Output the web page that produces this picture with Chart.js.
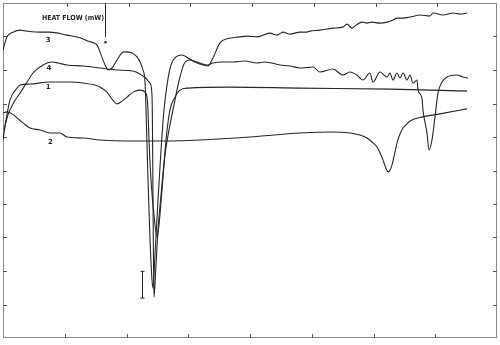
<!DOCTYPE html>
<html><head><meta charset="utf-8">
<script src="https://cdn.jsdelivr.net/npm/chart.js@4/dist/chart.umd.min.js"></script>
<style>html,body{margin:0;padding:0;background:#fff;}canvas{display:block;}</style>
</head><body>
<canvas id="c" width="500" height="345"></canvas>
<script>
// Axis divisions (unlabelled tick marks)
const xTicks = [0,10,20,30,40,50,60,70,80];
const yTicks = [0,10,20,30,40,50,60,70,80,90,100];

// Curve 1
const curve1X = [0,0.49,1.13,2.27,2.75,4.37,7.61,10.85,12.96,14.9,15.71,16.84,17.65,18.46,19.27,20.08,21.05,22.19,23.0,23.32,23.48,23.64,23.97,24.45,24.94,25.26,25.75,26.4,27.04,27.85,28.66,29.96,36.76,48.08,62.67,75.14];
const curve1Y = [59.1,65.1,71.0,74.6,75.5,75.8,76.4,76.4,76.1,75.5,74.9,73.4,71.3,69.9,70.7,71.9,73.4,74.0,73.4,71.9,68.1,59.1,47.2,36.7,30.1,33.7,44.2,59.1,68.1,71.9,74.0,74.6,74.9,74.6,74.3,73.7];

// Curve 2
const curve2X = [0,0.65,1.46,2.27,3.24,4.37,5.99,7.61,9.23,10.36,12.96,15.71,21.05,26.56,31.9,40.0,48.08,53.43,56.19,57.81,58.95,59.76,60.57,61.21,61.54,62.02,62.35,62.67,62.99,63.48,63.8,64.29,64.78,65.42,65.91,68.01,70.77,75.14];
const curve2Y = [67.2,67.5,66.9,65.7,64.2,62.7,62.1,61.2,61.2,60.0,59.7,59.1,58.8,58.8,59.1,60.0,61.2,61.5,61.2,60.6,59.7,58.5,57.0,54.6,53.1,50.7,49.6,50.1,51.6,55.5,58.2,60.9,62.7,63.9,64.8,66.0,66.9,68.4];

// Curve 3
const curve3X = [0,0.65,1.62,2.75,3.89,5.99,7.61,10.36,12.47,14.09,15.22,15.71,16.19,16.68,17.0,17.65,18.46,19.27,19.76,20.89,21.7,22.19,22.67,23.0,23.16,23.48,23.81,24.13,24.29,24.61,25.1,25.59,26.07,26.56,27.2,28.02,28.99,29.96,31.09,32.39,33.2,34.0,35.14,36.27,38.38,39.51,41.13,43.24,44.37,45.34,46.47,48.08,49.22,49.7,51.32,53.43,55.05,55.69,56.5,57.2,58.13,58.95,59.76,61.05,62.19,63.16,63.8,64.78,65.91,67.53,69.15,69.64,71.26,72.88,74.0,75.14];
const curve3Y = [86.0,89.9,91.3,91.9,91.6,91.3,91.3,90.4,89.6,88.4,87.5,85.4,83.0,80.9,80.0,80.6,83.0,85.1,85.4,85.1,83.9,82.4,80.0,76.4,68.1,47.2,29.3,17.3,14.9,24.8,41.2,56.1,68.1,75.5,81.5,83.9,84.5,83.6,82.4,81.5,81.2,83.6,88.1,89.3,89.9,90.1,89.9,91.0,90.4,91.3,90.7,91.3,91.3,91.6,91.9,92.5,92.8,93.7,92.5,93.4,94.3,94.0,94.3,94.0,94.3,94.9,95.5,95.5,95.8,96.4,96.1,97.0,96.4,97.0,96.7,97.0];

// Curve 4
const curve4X = [0.16,0.81,1.78,2.75,3.89,4.86,6.48,7.94,8.91,10.36,12.96,15.71,18.46,21.05,22.67,23.81,24.13,24.21,24.29,24.37,24.45,24.78,25.1,25.59,26.23,27.04,27.85,28.34,28.66,29.31,30.28,31.42,33.04,34.0,35.47,37.25,39.19,41.13,42.43,44.86,46.47,48.08,50.2,51.32,53.43,55.05,56.19,57.32,58.29,59.42,59.92,61.05,62.19,62.67,63.16,63.8,64.29,64.78,65.42,65.91,66.4,67.04,67.21,67.85,68.01,68.66,68.99,69.47,69.96,70.44,71.09,71.9,73.52,74.49,75.3];
const curve4Y = [62.1,66.6,70.4,73.1,76.4,79.1,81.5,82.4,82.1,81.5,81.2,80.6,80.0,79.7,78.2,76.1,72.5,62.1,41.2,23.3,12.2,21.8,32.2,42.7,54.6,63.6,71.0,75.5,77.9,81.8,83.0,82.4,81.5,82.1,82.4,82.4,82.7,82.1,82.4,81.5,81.2,80.6,80.9,79.4,80.3,78.5,79.4,78.5,77.0,79.1,76.4,79.4,77.9,79.1,77.0,79.1,77.6,79.1,77.0,78.5,76.1,77.0,74.0,71.6,68.1,61.2,56.1,59.1,66.0,73.1,76.4,77.9,78.5,77.9,77.6];

// Annotations (data units)
const curveLabels = ['1','2','3','4'];
const labelX = [7.3, 7.7, 7.3, 7.45];
const labelY = [74.9, 58.5, 88.9, 80.6];
const axisTitle = 'HEAT FLOW (mW)';
const titleX = 6.3, titleY = 95.5;
const arrowX = 16.5, arrowTop = 100, arrowBottom = 89.8, arrowDot = 88.3;
const barX = 22.55, barTop = 19.9, barBottom = 11.9;

const toPts = (xs, ys) => xs.map((x, i) => ({x, y: ys[i]}));
const ink = '#262626';

const frame = {
  id: 'frame',
  beforeDatasetsDraw(chart) {
    const {ctx, chartArea: a, scales: {x, y}} = chart;
    ctx.save();
    ctx.strokeStyle = '#8a8a8a';
    ctx.lineWidth = 1;
    ctx.strokeRect(a.left + 0.5, a.top + 0.5, a.right - a.left - 1, a.bottom - a.top - 1);
    ctx.strokeStyle = '#555';
    ctx.beginPath();
    xTicks.slice(1, -1).forEach(v => {
      const px = Math.round(x.getPixelForValue(v)) + 0.5;
      ctx.moveTo(px, a.bottom); ctx.lineTo(px, a.bottom - 4);
      ctx.moveTo(px + 2, a.top); ctx.lineTo(px + 2, a.top + 4);
    });
    yTicks.slice(1, -1).forEach(v => {
      const py = Math.round(y.getPixelForValue(v)) + 0.5;
      ctx.moveTo(a.left, py); ctx.lineTo(a.left + 4, py);
      ctx.moveTo(a.right, py); ctx.lineTo(a.right - 4, py);
    });
    ctx.stroke();
    ctx.restore();
  },
  afterDatasetsDraw(chart) {
    const {ctx, scales: {x, y}} = chart;
    ctx.save();
    ctx.fillStyle = ink;
    ctx.strokeStyle = ink;
    ctx.textBaseline = 'middle';
    ctx.textAlign = 'center';
    ctx.font = 'bold 7px "DejaVu Sans"';
    curveLabels.forEach((t, i) => ctx.fillText(t, x.getPixelForValue(labelX[i]), y.getPixelForValue(labelY[i])));
    ctx.textAlign = 'left';
    ctx.font = 'bold 7px "DejaVu Sans Condensed", "DejaVu Sans"';
    ctx.fillText(axisTitle, x.getPixelForValue(titleX), y.getPixelForValue(titleY));
    // heat-flow direction marker
    ctx.lineWidth = 1;
    const ax = Math.round(x.getPixelForValue(arrowX)) + 0.5;
    ctx.beginPath();
    ctx.moveTo(ax, y.getPixelForValue(arrowTop));
    ctx.lineTo(ax, y.getPixelForValue(arrowBottom));
    ctx.stroke();
    ctx.beginPath();
    ctx.arc(ax, y.getPixelForValue(arrowDot), 1.2, 0, Math.PI * 2);
    ctx.fill();
    // scale bar
    const bx = Math.round(x.getPixelForValue(barX)) + 0.5;
    const bt = y.getPixelForValue(barTop), bb = y.getPixelForValue(barBottom);
    ctx.beginPath();
    ctx.moveTo(bx, bt); ctx.lineTo(bx, bb);
    ctx.moveTo(bx - 2, bt); ctx.lineTo(bx + 2, bt);
    ctx.moveTo(bx - 2, bb); ctx.lineTo(bx + 2, bb);
    ctx.stroke();
    ctx.restore();
  }
};

const ds = (xs, ys) => ({
  data: toPts(xs, ys),
  borderColor: ink,
  borderWidth: 1.1,
  pointRadius: 0,
  cubicInterpolationMode: 'monotone',
  fill: false
});

new Chart(document.getElementById('c'), {
  type: 'line',
  data: {datasets: [ds(curve1X, curve1Y), ds(curve2X, curve2Y), ds(curve3X, curve3Y), ds(curve4X, curve4Y)]},
  options: {
    responsive: false,
    animation: false,
    devicePixelRatio: 1,
    layout: {padding: {left: 3, right: 3, top: 3, bottom: 7}},
    plugins: {legend: {display: false}, tooltip: {enabled: false}},
    scales: {
      x: {type: 'linear', min: 0, max: 80, display: false},
      y: {type: 'linear', min: 0, max: 100, display: false}
    }
  },
  plugins: [frame]
});
</script>
</body></html>
